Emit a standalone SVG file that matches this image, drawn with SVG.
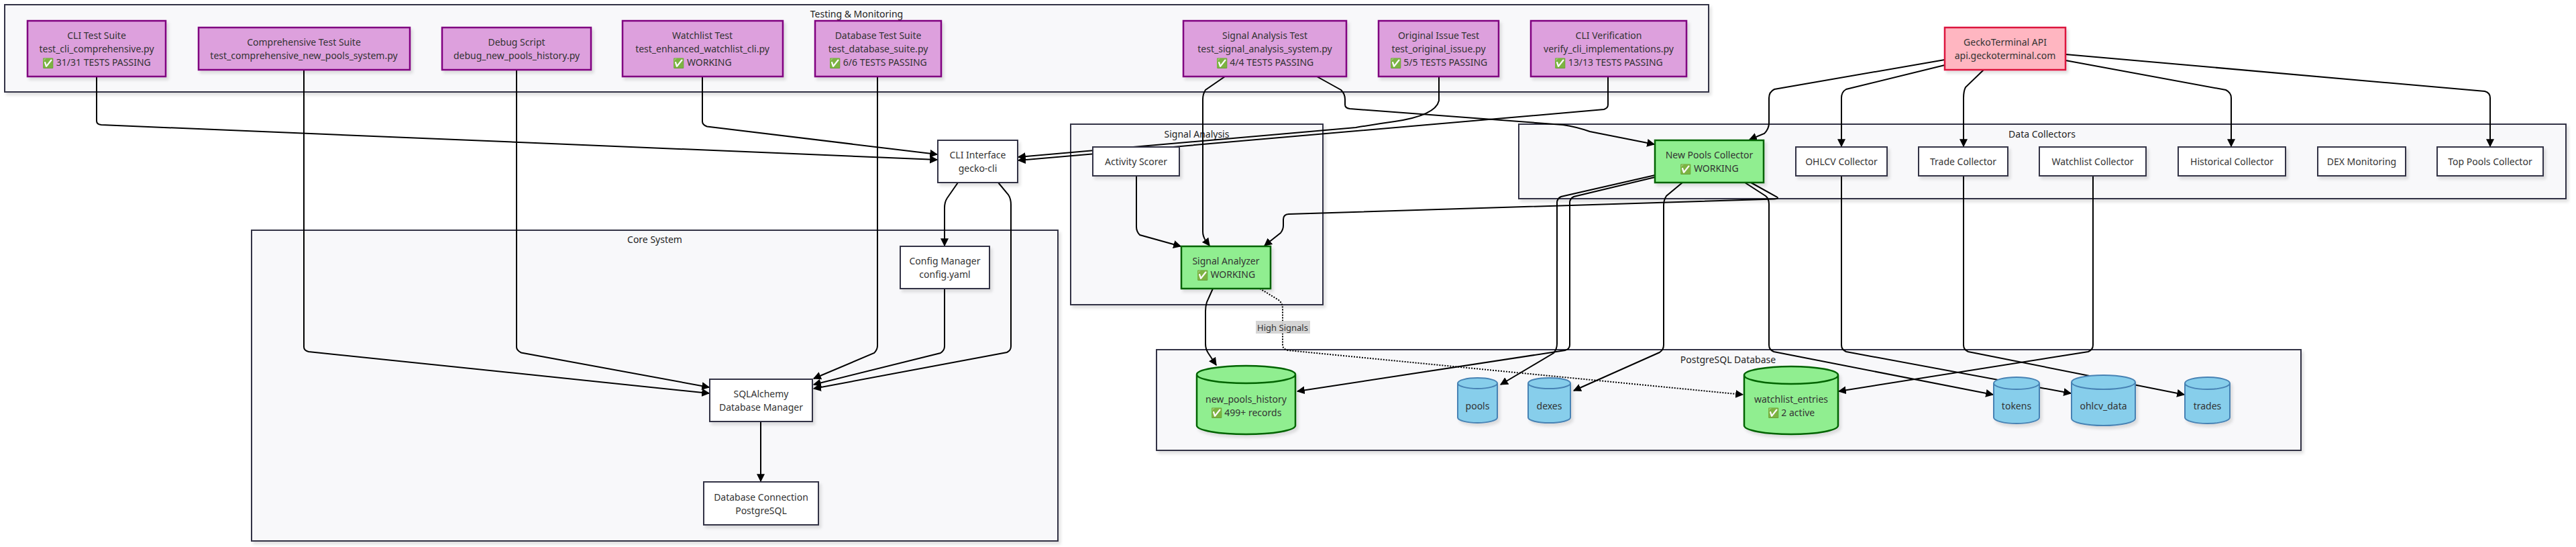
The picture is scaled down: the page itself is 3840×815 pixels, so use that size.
<svg xmlns="http://www.w3.org/2000/svg" width="3840" height="815" viewBox="0 0 3840 815">
<defs>
<filter id="sh" x="-10%" y="-10%" width="130%" height="140%"><feDropShadow dx="3" dy="4" stdDeviation="2" flood-color="#000" flood-opacity="0.12"/></filter>
<marker id="ah" viewBox="0 0 10 10" refX="9" refY="5" markerWidth="12" markerHeight="12" markerUnits="userSpaceOnUse" orient="auto"><path d="M0,0 L10,5 L0,10 z" fill="#000"/></marker>
<style>
.cl{fill:#f8f8fa;stroke:#333344;stroke-width:2;filter:url(#sh)}
.ct{font-family:"Noto Sans","DejaVu Sans",sans-serif;font-size:14px;fill:#222;text-anchor:middle;dominant-baseline:central}
.t{font-family:"Noto Sans","DejaVu Sans",sans-serif;font-size:14px;fill:#333;text-anchor:middle;dominant-baseline:central}
.test{fill:#dda0dd;stroke:#800080;stroke-width:2.5;filter:url(#sh)}
.wh{fill:#fff;stroke:#333344;stroke-width:2;filter:url(#sh)}
.gr{fill:#90ee90;stroke:#006400;stroke-width:2.5;filter:url(#sh)}
.pk{fill:#ffb6c1;stroke:#dc143c;stroke-width:2.5;filter:url(#sh)}
.cy{fill:#87ceeb;stroke:#4682b4;stroke-width:2;filter:url(#sh)}
.cyg{fill:#90ee90;stroke:#006400;stroke-width:2.5;filter:url(#sh)}
.e{fill:none;stroke:#000;stroke-width:2;marker-end:url(#ah)}
.d{fill:none;stroke:#000;stroke-width:2;stroke-dasharray:2 2;marker-end:url(#ah)}
.ok{fill:#3c8c2c}
.lb{fill:#d0d0d0;opacity:0.9}
</style>
</defs>

<g id="clusters">
<rect class="cl" x="7" y="7" width="2540" height="130"/>
<text class="ct" x="1277" y="20">Testing &amp; Monitoring</text>
<rect class="cl" x="1596" y="185" width="376" height="269"/>
<text class="ct" x="1784" y="199">Signal Analysis</text>
<rect class="cl" x="2264" y="185" width="1561" height="111"/>
<text class="ct" x="3044" y="199">Data Collectors</text>
<rect class="cl" x="375" y="343" width="1202" height="463"/>
<text class="ct" x="976" y="356">Core System</text>
<rect class="cl" x="1724" y="521" width="1706" height="150"/>
<text class="ct" x="2576" y="535">PostgreSQL Database</text>
</g>

<g id="connectors">
<path class="e" d="M144,114 L144,180 Q144,185.5 151,186 L1397,238"/>
<path class="e" d="M1047,114 L1047,181 Q1047,186 1054,188.5 L1397,230"/>
<path class="e" d="M453,104 L453,517 Q453,522 460,524 L1057,586"/>
<path class="e" d="M770,104 L770,517 Q770,522 777,525.5 L1057,577"/>
<path class="e" d="M1308,114 L1308,515 Q1308,521 1303,526 L1213,564"/>
<path class="e" d="M1408,430 L1408,516 Q1408,522 1402,526 L1213,573"/>
<path class="e" d="M1488,272 L1503,290 Q1507,296 1507,305 L1507,516 Q1507,522 1501,525 L1213,579"/>
<path class="e" d="M1428,272 L1412,295 Q1408,301 1408,310 L1408,366"/>
<path class="e" d="M1134,628 L1134,717"/>
<path class="e" d="M1826,114 L1797,134 Q1793,140 1793,148 L1793,345 Q1793,352 1797,358 L1803,366"/>
<path class="e" d="M1963,114 L1999,134 Q2005,140 2005,148 L2005,156 Q2005,161 2012,162 L2330,186 Q2350,189 2370,196 L2466,215"/>
<path class="e" d="M2145,114 L2145,150 Q2140,172 2079,181 Q2050,185 2021,190 L1518,234"/>
<path class="e" d="M2397,114 L2397,156 Q2397,161 2391,163 L1518,239"/>
<path class="e" d="M1694,262 L1694,338 Q1694,345 1699,350 L1760,367"/>
<path class="e" d="M2610,272 L2648,293 Q2653,296 2645,296.5 L1921,319 Q1913,319.5 1913,327 L1913,336 Q1913,342 1909,347 L1885,366"/>
<path class="e" d="M2467,261 L2327,293 Q2321,296 2321,302 L2321,512 Q2321,520 2316,526 L2237,573"/>
<path class="e" d="M2467,264 L2346,293 Q2340,296 2340,302 L2340,514 Q2340,520 2333,522 L1934,583"/>
<path class="e" d="M2508,272 L2484,292 Q2480,298 2480,306 L2480,514 Q2480,521 2474,525 L2346,582"/>
<path class="e" d="M2601,272 L2632,292 Q2637,296 2637,304 L2637,514 Q2637,521 2644,524 L2971,588"/>
<path class="e" d="M2745,262 L2745,514 Q2745,521 2752,524 L3087,586"/>
<path class="e" d="M2927,262 L2927,514 Q2927,521 2934,524 L3256,588"/>
<path class="e" d="M3120,262 L3120,514 Q3120,521 3113,524 L2741,583"/>
<path class="e" d="M1808,430 L1799,450 Q1797,456 1797,464 L1797,512 Q1797,520 1801,526 L1813,544"/>
<path class="d" d="M1878,430 L1906,447 Q1912,452 1912,460 L1912,514 Q1912,520 1920,522 L2598,588"/>
<path class="e" d="M2899,89 L2645,133 Q2637,137 2637,146 L2637,183 Q2637,192 2630,199 L2608,208"/>
<path class="e" d="M2899,97 L2752,133 Q2745,137 2745,146 L2745,218"/>
<path class="e" d="M2957,104 L2930,130 Q2927,136 2927,146 L2927,218"/>
<path class="e" d="M3079,90 L3318,134 Q3326,138 3326,146 L3326,218"/>
<path class="e" d="M3079,81 L3704,136 Q3712,138 3712,146 L3712,218"/>
<g id="label-high-signals">
<rect class="lb" x="1872" y="478" width="81" height="19"/>
<text class="t" x="1912" y="487.5" style="font-size:13px">High Signals</text>
</g>
</g>

<g id="cli_test"><rect class="test" x="41" y="31" width="206" height="83"/>
<text class="t" x="144" y="52.5">CLI Test Suite</text><text class="t" x="144" y="72.5">test_cli_comprehensive.py</text><text class="t" x="144" y="92.5"><tspan class="ok">✅</tspan> 31/31 TESTS PASSING</text></g>
<g id="comp_test"><rect class="test" x="296" y="41" width="315" height="63"/>
<text class="t" x="453" y="62.5">Comprehensive Test Suite</text><text class="t" x="453" y="82.5">test_comprehensive_new_pools_system.py</text></g>
<g id="debug"><rect class="test" x="659" y="41" width="222" height="63"/>
<text class="t" x="770" y="62.5">Debug Script</text><text class="t" x="770" y="82.5">debug_new_pools_history.py</text></g>
<g id="watch_test"><rect class="test" x="928" y="31" width="239" height="83"/>
<text class="t" x="1047" y="52.5">Watchlist Test</text><text class="t" x="1047" y="72.5">test_enhanced_watchlist_cli.py</text><text class="t" x="1047" y="92.5"><tspan class="ok">✅</tspan> WORKING</text></g>
<g id="db_test"><rect class="test" x="1215" y="31" width="188" height="83"/>
<text class="t" x="1309" y="52.5">Database Test Suite</text><text class="t" x="1309" y="72.5">test_database_suite.py</text><text class="t" x="1309" y="92.5"><tspan class="ok">✅</tspan> 6/6 TESTS PASSING</text></g>
<g id="sig_test"><rect class="test" x="1764" y="31" width="243" height="83"/>
<text class="t" x="1885.5" y="52.5">Signal Analysis Test</text><text class="t" x="1885.5" y="72.5">test_signal_analysis_system.py</text><text class="t" x="1885.5" y="92.5"><tspan class="ok">✅</tspan> 4/4 TESTS PASSING</text></g>
<g id="orig_test"><rect class="test" x="2055" y="31" width="179" height="83"/>
<text class="t" x="2144.5" y="52.5">Original Issue Test</text><text class="t" x="2144.5" y="72.5">test_original_issue.py</text><text class="t" x="2144.5" y="92.5"><tspan class="ok">✅</tspan> 5/5 TESTS PASSING</text></g>
<g id="cli_verify"><rect class="test" x="2282" y="31" width="232" height="83"/>
<text class="t" x="2398" y="52.5">CLI Verification</text><text class="t" x="2398" y="72.5">verify_cli_implementations.py</text><text class="t" x="2398" y="92.5"><tspan class="ok">✅</tspan> 13/13 TESTS PASSING</text></g>

<g id="gecko"><rect class="pk" x="2899" y="41" width="180" height="63"/>
<text class="t" x="2989" y="62.5">GeckoTerminal API</text><text class="t" x="2989" y="82.5">api.geckoterminal.com</text></g>

<g id="cli"><rect class="wh" x="1398" y="209" width="119" height="63"/>
<text class="t" x="1457.5" y="230.5">CLI Interface</text><text class="t" x="1457.5" y="250.5">gecko-cli</text></g>
<g id="activity"><rect class="wh" x="1629" y="219" width="129" height="43"/>
<text class="t" x="1693.5" y="240.5">Activity Scorer</text></g>
<g id="analyzer"><rect class="gr" x="1761" y="367" width="133" height="63"/>
<text class="t" x="1827.5" y="388.5">Signal Analyzer</text><text class="t" x="1827.5" y="408.5"><tspan class="ok">✅</tspan> WORKING</text></g>
<g id="config"><rect class="wh" x="1342" y="367" width="133" height="63"/>
<text class="t" x="1408.5" y="388.5">Config Manager</text><text class="t" x="1408.5" y="408.5">config.yaml</text></g>
<g id="sqlalchemy"><rect class="wh" x="1058" y="565" width="153" height="63"/>
<text class="t" x="1134.5" y="586.5">SQLAlchemy</text><text class="t" x="1134.5" y="606.5">Database Manager</text></g>
<g id="dbconn"><rect class="wh" x="1049" y="718" width="171" height="64"/>
<text class="t" x="1134.5" y="740">Database Connection</text><text class="t" x="1134.5" y="760">PostgreSQL</text></g>

<g id="npc"><rect class="gr" x="2467" y="209" width="162" height="63"/>
<text class="t" x="2548" y="230.5">New Pools Collector</text><text class="t" x="2548" y="250.5"><tspan class="ok">✅</tspan> WORKING</text></g>
<g id="ohlcv"><rect class="wh" x="2677" y="219" width="136" height="43"/>
<text class="t" x="2745" y="240.5">OHLCV Collector</text></g>
<g id="trade"><rect class="wh" x="2860" y="219" width="133" height="43"/>
<text class="t" x="2926.5" y="240.5">Trade Collector</text></g>
<g id="watch_col"><rect class="wh" x="3040" y="219" width="159" height="43"/>
<text class="t" x="3119.5" y="240.5">Watchlist Collector</text></g>
<g id="hist"><rect class="wh" x="3247" y="219" width="160" height="43"/>
<text class="t" x="3327" y="240.5">Historical Collector</text></g>
<g id="dex"><rect class="wh" x="3455" y="219" width="131" height="43"/>
<text class="t" x="3520.5" y="240.5">DEX Monitoring</text></g>
<g id="top"><rect class="wh" x="3633" y="219" width="158" height="43"/>
<text class="t" x="3712" y="240.5">Top Pools Collector</text></g>

<g id="new_pools_history"><path class="cyg" d="M1784,558 a73.5,13 0 0 0 147,0 a73.5,13 0 0 0 -147,0 l0,76 a73.5,13 0 0 0 147,0 l0,-76"/>
<text class="t" x="1857.5" y="594">new_pools_history</text><text class="t" x="1857.5" y="614"><tspan class="ok">✅</tspan> 499+ records</text></g>
<g id="pools"><path class="cy" d="M2173,571 a29.5,8 0 0 0 59,0 a29.5,8 0 0 0 -59,0 l0,51 a29.5,8 0 0 0 59,0 l0,-51"/>
<text class="t" x="2202.5" y="604">pools</text></g>
<g id="dexes"><path class="cy" d="M2278,571 a31.5,8 0 0 0 63,0 a31.5,8 0 0 0 -63,0 l0,51 a31.5,8 0 0 0 63,0 l0,-51"/>
<text class="t" x="2309.5" y="604">dexes</text></g>
<g id="watchlist_entries"><path class="cyg" d="M2600,559 a70,13 0 0 0 140,0 a70,13 0 0 0 -140,0 l0,75 a70,13 0 0 0 140,0 l0,-75"/>
<text class="t" x="2670" y="594">watchlist_entries</text><text class="t" x="2670" y="614"><tspan class="ok">✅</tspan> 2 active</text></g>
<g id="tokens"><path class="cy" d="M2972,571 a34,9 0 0 0 68,0 a34,9 0 0 0 -68,0 l0,51 a34,9 0 0 0 68,0 l0,-51"/>
<text class="t" x="3006" y="604">tokens</text></g>
<g id="ohlcv_data"><path class="cy" d="M3088,569.5 a47.5,10.5 0 0 0 95,0 a47.5,10.5 0 0 0 -95,0 l0,54 a47.5,10.5 0 0 0 95,0 l0,-54"/>
<text class="t" x="3135.5" y="604">ohlcv_data</text></g>
<g id="trades"><path class="cy" d="M3257,571 a33.5,9 0 0 0 67,0 a33.5,9 0 0 0 -67,0 l0,51 a33.5,9 0 0 0 67,0 l0,-51"/>
<text class="t" x="3290.5" y="604">trades</text></g>
</svg>
